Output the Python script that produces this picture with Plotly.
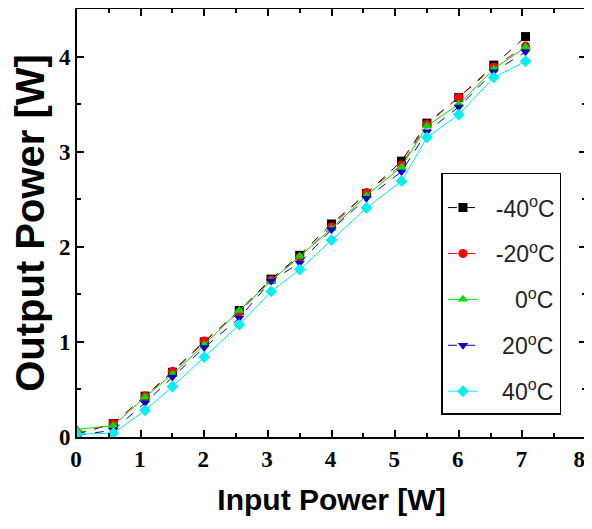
import plotly.graph_objects as go

input_power = [0.0, 0.57, 1.07, 1.5, 2.0, 2.55, 3.05, 3.5, 4.0, 4.55, 5.1, 5.5, 6.0, 6.55, 7.05]

p_m40 = [0.03, 0.14, 0.43, 0.68, 1.00, 1.33, 1.66, 1.91, 2.24, 2.56, 2.90, 3.30, 3.57, 3.91, 4.21]
p_m20 = [0.04, 0.14, 0.43, 0.69, 1.01, 1.31, 1.65, 1.89, 2.21, 2.57, 2.86, 3.29, 3.57, 3.89, 4.11]
p_0 = [0.08, 0.12, 0.42, 0.66, 0.97, 1.33, 1.64, 1.90, 2.19, 2.54, 2.84, 3.27, 3.50, 3.87, 4.10]
p_20 = [0.02, 0.07, 0.36, 0.63, 0.94, 1.25, 1.64, 1.83, 2.18, 2.51, 2.79, 3.21, 3.47, 3.84, 4.05]
p_40 = [0.03, 0.04, 0.28, 0.53, 0.84, 1.18, 1.53, 1.76, 2.07, 2.41, 2.69, 3.15, 3.39, 3.78, 3.95]

series_names = ["\u00a0\u00a0-40<sup>o</sup>C", "\u00a0\u00a0-20<sup>o</sup>C",
                "\u00a0\u00a0\u00a0\u00a0\u00a00<sup>o</sup>C",
                "\u00a0\u00a0\u00a020<sup>o</sup>C", "\u00a0\u00a0\u00a040<sup>o</sup>C"]
series_values = [p_m40, p_m20, p_0, p_20, p_40]
colors = ["#000000", "#ff0000", "#00dd00", "#0000cc", "#00f0f0"]
symbols = ["square", "circle", "triangle-up", "triangle-down", "diamond"]
dashes = ["dash", "dash", "solid", "dash", "solid"]
xticks = [0, 1, 2, 3, 4, 5, 6, 7, 8]
xticklabels = ["0", "1", "2", "3", "4", "5", "6", "7", "8\u00a0\u00a0"]
yticks = [0, 1, 2, 3, 4]

fig = go.Figure()
for i, (name, vals) in enumerate(zip(series_names, series_values)):
    fig.add_trace(go.Scatter(
        x=input_power, y=vals, name=name, mode="lines+markers",
        legendgroup=f"g{i}",
        line=dict(color=colors[i], width=1, dash=dashes[i]),
        marker=dict(symbol=symbols[i], size=9, color=colors[i]),
    ))

axis_common = dict(
    showline=True, linecolor="black", linewidth=2, mirror="ticks",
    ticks="inside", ticklen=7, tickwidth=1.5, tickcolor="black",
    showgrid=False, zeroline=False, automargin=False,
    tickfont=dict(family="Liberation Serif, Times New Roman, serif", size=23, color="black", weight="bold"),
)

# the page body adds an 8px offset; the figure size compensates for it (and avoids scrollbars)
fig.update_layout(
    width=584, height=513,
    margin=dict(l=69, r=6, t=1, b=84),
    paper_bgcolor="white", plot_bgcolor="white",
    xaxis=dict(range=[0, 8], tickvals=xticks, ticktext=xticklabels,
               ticklabelshift=-1, ticklabeloverflow="allow",
               minor=dict(tickvals=[0.5, 1.5, 2.5, 3.5, 4.5, 5.5, 6.5, 7.5], ticks="inside", ticklen=4, tickcolor="black"),
               title=dict(text="Input Power [W]", standoff=18,
                          font=dict(family="Liberation Sans, Arial, sans-serif", size=30, color="black", weight="bold")),
               **axis_common),
    yaxis=dict(range=[0, 4.5], tickvals=yticks, ticktext=[str(v) for v in yticks],
               minor=dict(tickvals=[0.5, 1.5, 2.5, 3.5], ticks="inside", ticklen=4, tickcolor="black"),
               title=dict(text="Output Power [W]", standoff=8,
                          font=dict(family="Liberation Sans, Arial, sans-serif", size=40, color="black", weight="bold")),
               **axis_common),
    legend=dict(x=0.716, y=0.617, xanchor="left", yanchor="top",
                bordercolor="black", borderwidth=1.5, bgcolor="white",
                title=dict(text="\u00a0", font=dict(size=9)),
                font=dict(family="Liberation Sans, Arial, sans-serif", size=23, color="#222"),
                traceorder="grouped", tracegroupgap=13, itemwidth=30),
    showlegend=True,
)

fig.write_html("out.html")
